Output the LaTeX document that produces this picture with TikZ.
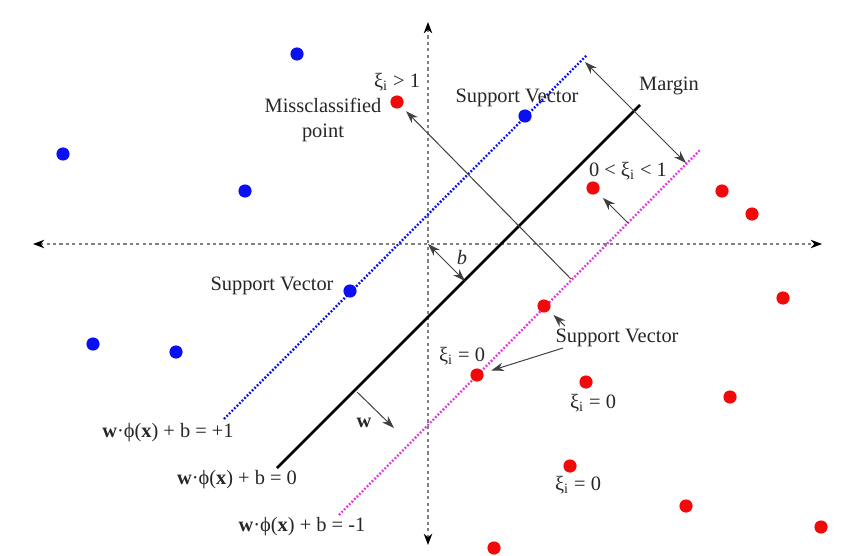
\documentclass[tikz,border=0pt]{standalone}
\usepackage{fontspec}
\setmainfont{Liberation Serif}
\usetikzlibrary{arrows.meta}
\definecolor{ptBlue}{HTML}{0A10F0}
\definecolor{ptRed}{HTML}{F00A0A}
\definecolor{lnMagenta}{HTML}{E03CE0}
\newcommand{\xii}{ξ\textsubscript{i}}
\newcommand{\hpeq}[1]{\textbf{w}·ϕ(\textbf{x}) + b = #1}

\begin{document}
\begin{tikzpicture}[x=0.5pt, y=-0.5pt,
        pb/.style={circle, fill=ptBlue, inner sep=0pt, minimum size=6.6pt},
        pr/.style={circle, fill=ptRed, inner sep=0pt, minimum size=6.6pt},
        lbl/.style={inner sep=0pt, align=center, text=black!85, font=\fontsize{10.2}{12.5}\selectfont},
        axis/.style={gray, line width=0.6pt, dash pattern=on 1.6pt off 1.6pt,
            {Stealth[length=2mm, width=1.5mm, black]}-{Stealth[length=2mm, width=1.5mm, black]}},
        arr/.style={-{Stealth[length=2.2mm, width=1.5mm]}, black!75, line width=0.5pt},
        darr/.style={{Stealth[length=2.2mm, width=1.5mm]}-{Stealth[length=2.2mm, width=1.5mm]}, black!75, line width=0.5pt}
    ]
    \useasboundingbox (0,0) rectangle (846,556);

    % axes
    \coordinate (xl) at (33,244); \coordinate (xr) at (822,244);
    \coordinate (yb) at (428,545); \coordinate (yt) at (428,22);
    \coordinate (o) at (428,244);
    \draw[axis] (xl) -- (xr);
    \draw[axis] (yb) -- (yt);

    % hyperplane and margins
    \coordinate (hpA) at (277,468); \coordinate (hpB) at (640,105);
    \coordinate (plA) at (224,419); \coordinate (plB) at (587,55);
    \coordinate (miA) at (339,515); \coordinate (miB) at (701,149);
    \draw[line width=1.3pt] (hpA) -- (hpB);
    \draw[ptBlue, line width=1.2pt, dash pattern=on 0.9pt off 0.9pt] (plA) -- (plB);
    \draw[lnMagenta, line width=1.2pt, dash pattern=on 0.9pt off 0.9pt] (miA) -- (miB);

    % class +1
    \node[pb] (b1) at (297,54) {};
    \node[pb] (b2) at (63,154) {};
    \node[pb] (b3) at (245,191) {};
    \node[pb] (b4) at (93,344) {};
    \node[pb] (b5) at (176,352) {};
    \node[pb] (svB1) at (350,291) {};
    \node[pb] (svB2) at (525,116) {};

    % class -1
    \node[pr] (mis) at (397,102) {};
    \node[pr] (r1) at (593,188) {};
    \node[pr] (r2) at (722,191) {};
    \node[pr] (r3) at (752,214) {};
    \node[pr] (r4) at (783,298) {};
    \node[pr] (svR1) at (544,306) {};
    \node[pr] (svR2) at (477,375) {};
    \node[pr] (r5) at (586,382) {};
    \node[pr] (r6) at (730,397) {};
    \node[pr] (r7) at (570,466) {};
    \node[pr] (r8) at (686,506) {};
    \node[pr] (r9) at (821,527) {};
    \node[pr] (r10) at (494,548) {};

    % labels
    \node[lbl] (xiMis) at (397,82) {\xii{} > 1};
    \node[lbl] (misLbl) at (323,120) {Missclassified\\point};
    \node[lbl] (svTop) at (517,98) {Support Vector};
    \node[lbl] (svLeft) at (272,286) {Support Vector};
    \node[lbl] (svRight) at (617,338) {Support Vector};
    \node[lbl] (marg) at (669,86) {Margin};
    \node[lbl] (xiMid) at (628,171) {0 < \xii{} < 1};
    \node[lbl] (xiSv) at (462,356) {\xii{} = 0};
    \node[lbl] (xiR5) at (593,403) {\xii{} = 0};
    \node[lbl] (xiR7) at (578,485) {\xii{} = 0};
    \node[lbl] (bLbl) at (462,258) {\textit{b}};
    \node[lbl] (wLbl) at (364,423) {\textbf{w}};
    \node[lbl] (eqP) at (168,433) {\hpeq{+1}};
    \node[lbl] (eqZ) at (237,480) {\hpeq{0}};
    \node[lbl] (eqM) at (302,527) {\hpeq{-1}};

    % arrows
    \coordinate (mTop) at (585,62); \coordinate (mBot) at (686,163);
    \draw[darr] (mTop) -- (mBot);
    \coordinate (bHp) at (465,281);
    \draw[darr] (o) -- (bHp);
    \coordinate (wTail) at (357,392); \coordinate (wHead) at (394,428);
    \draw[arr] (wTail) -- (wHead);
    \coordinate (sMis) at (571,279);
    \draw[arr, shorten >=3pt] (sMis) -- (mis);
    \coordinate (sR1) at (628,223);
    \draw[arr, shorten >=3.5pt] (sR1) -- (r1);
    \coordinate (svT1) at (565,326); \coordinate (svT2) at (563,348);
    \draw[arr, shorten >=3pt] (svT1) -- (svR1);
    \draw[arr, shorten >=4pt] (svT2) -- (svR2);
\end{tikzpicture}
\end{document}
